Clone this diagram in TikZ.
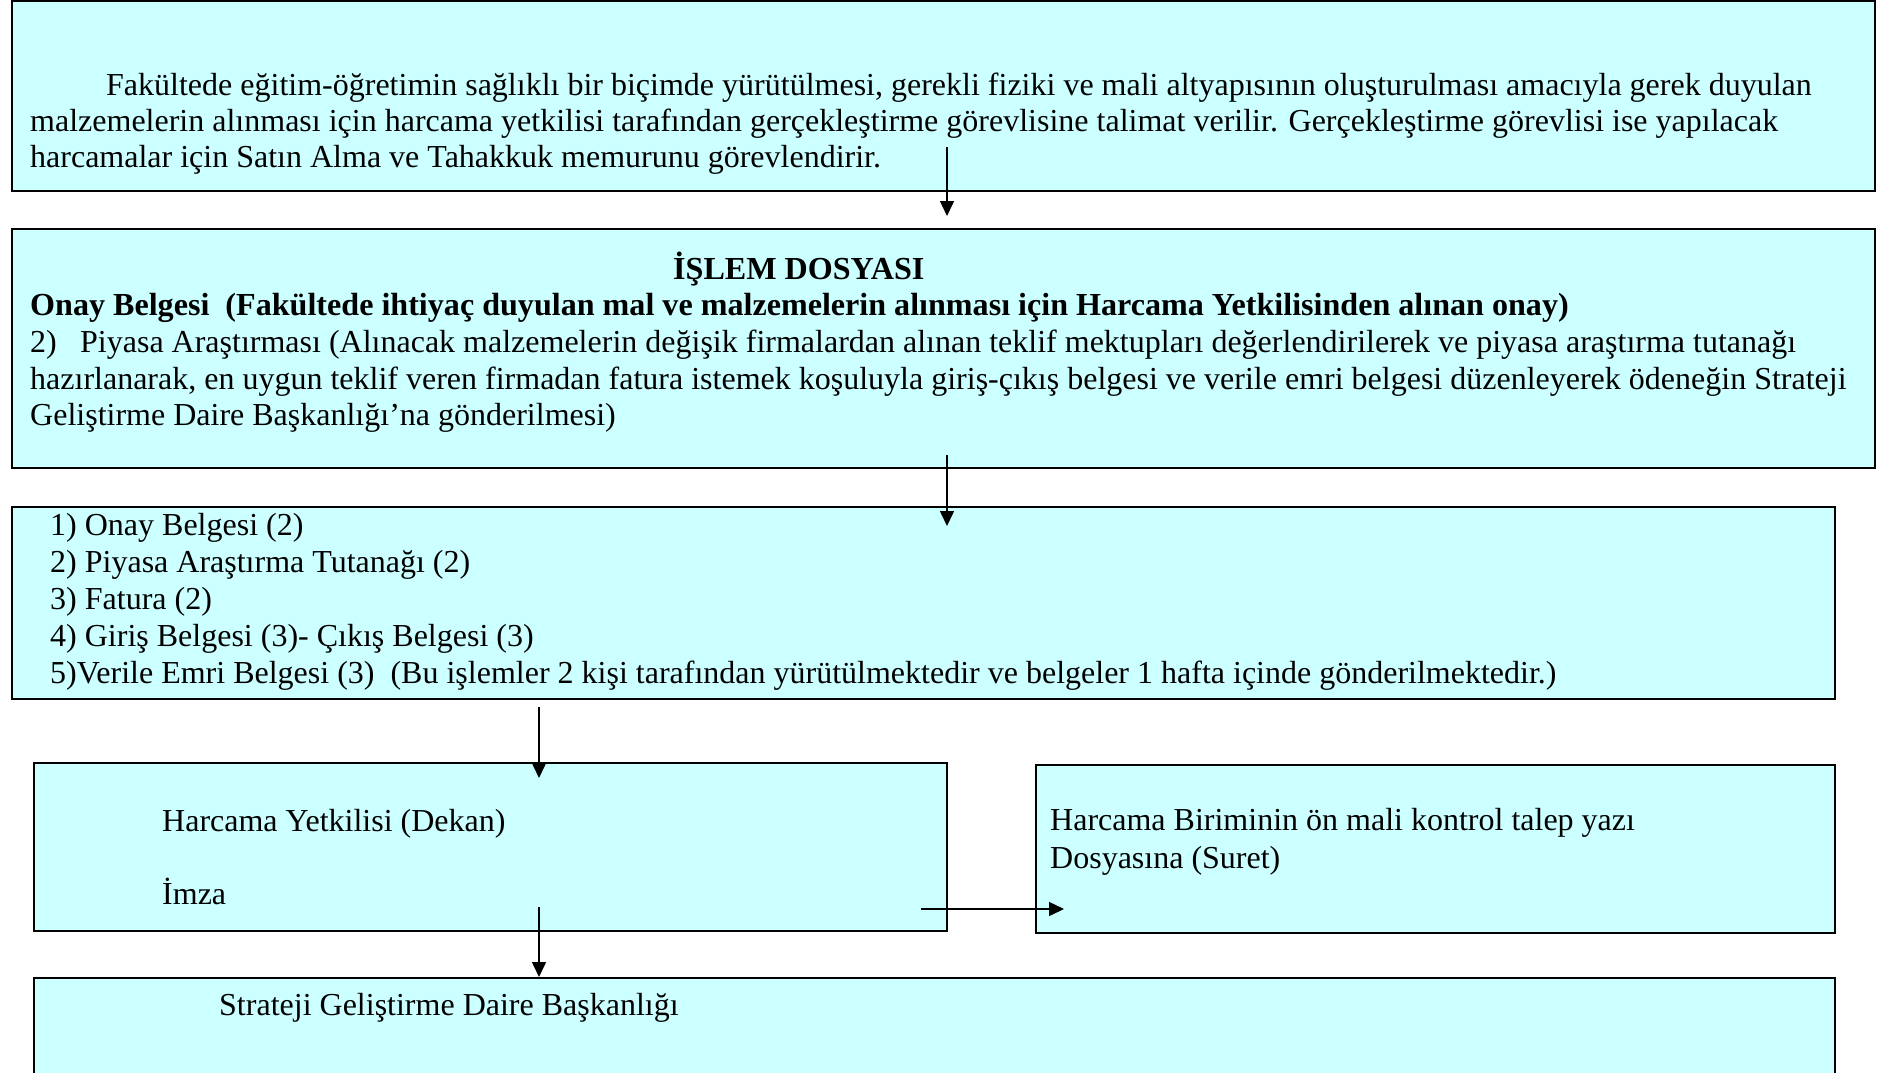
\documentclass[tikz,border=0pt]{standalone}
\usepackage{fontspec}
\setmainfont{Liberation Serif}
\usetikzlibrary{arrows.meta}
\definecolor{boxcyan}{HTML}{CCFFFF}
\begin{document}
\begin{tikzpicture}[x=1pt,y=-1pt,
  box/.style={draw=black, line width=1.6pt, fill=boxcyan, rectangle, inner sep=0pt, outer sep=0pt, anchor=north west},
  txt/.style={anchor=base west, inner sep=0pt, font=\fontsize{32}{36}\selectfont},
  btxt/.style={txt, font=\fontsize{32.1}{36}\selectfont\bfseries},
  arr/.style={line width=1.5pt, -{Triangle[length=15pt,width=14pt]}}]
\clip (0,0) rectangle (1883,1072);
\fill[white] (0,0) rectangle (1883,1072);
% boxes
\node[box, minimum width=1863pt, minimum height=190pt] (b1) at (12,1) {};
\node[box, minimum width=1863pt, minimum height=239pt] (b2) at (12,229) {};
\node[box, minimum width=1823pt, minimum height=192pt] (b3) at (12,507) {};
\node[box, minimum width=913pt, minimum height=168pt] (b4) at (34,763) {};
\node[box, minimum width=799pt, minimum height=168pt] (b5) at (1036,765) {};
\node[box, minimum width=1801pt, minimum height=120pt] (b6) at (34,978) {};
% box 1 text
\node[txt] (t1a) at (106,95) {Fakültede eğitim-öğretimin sağlıklı bir biçimde yürütülmesi, gerekli fiziki ve mali altyapısının oluşturulması amacıyla gerek duyulan};
\node[txt] (t1b) at (30,131) {malzemelerin alınması için harcama yetkilisi tarafından gerçekleştirme görevlisine talimat verilir. Gerçekleştirme görevlisi ise yapılacak};
\node[txt] (t1c) at (30,167) {harcamalar için Satın Alma ve Tahakkuk memurunu görevlendirir.};
% box 2 text
\node[btxt] (t2a) at (673,279) {İŞLEM DOSYASI};
\node[btxt] (t2b) at (30,315.5) {Onay Belgesi\ \ (Fakültede ihtiyaç duyulan mal ve malzemelerin alınması için Harcama Yetkilisinden alınan onay)};
\node[txt] (t2c) at (30,352.5) {\makebox[50pt][l]{2)}Piyasa Araştırması (Alınacak malzemelerin değişik firmalardan alınan teklif mektupları değerlendirilerek ve piyasa araştırma tutanağı};
\node[txt] (t2d) at (30,389) {hazırlanarak, en uygun teklif veren firmadan fatura istemek koşuluyla giriş-çıkış belgesi ve verile emri belgesi düzenleyerek ödeneğin Strateji};
\node[txt] (t2e) at (30,425.5) {Geliştirme Daire Başkanlığı’na gönderilmesi)};
% box 3 text
\node[txt] (t3a) at (50,535.5) {1) Onay Belgesi (2)};
\node[txt] (t3b) at (50,572.5) {2) Piyasa Araştırma Tutanağı (2)};
\node[txt] (t3c) at (50,609.5) {3) Fatura (2)};
\node[txt] (t3d) at (50,646.5) {4) Giriş Belgesi (3)- Çıkış Belgesi (3)};
\node[txt] (t3e) at (50,683.5) {5)Verile Emri Belgesi (3)\ \ (Bu işlemler 2 kişi tarafından yürütülmektedir ve belgeler 1 hafta içinde gönderilmektedir.)};
% box 4 text
\node[txt] (t4a) at (162,831) {Harcama Yetkilisi (Dekan)};
\node[txt] (t4b) at (162,904) {İmza};
% box 5 text
\node[txt] (t5a) at (1050,830) {Harcama Biriminin ön mali kontrol talep yazı};
\node[txt] (t5b) at (1050,868) {Dosyasına (Suret)};
% box 6 text
\node[txt] (t6a) at (219,1015) {Strateji Geliştirme Daire Başkanlığı};
% arrows
\coordinate (a1s) at (947,147); \coordinate (a1e) at (947,216);
\coordinate (a2s) at (947,455); \coordinate (a2e) at (947,526);
\coordinate (a3s) at (539,707); \coordinate (a3e) at (539,778);
\coordinate (a4s) at (921,909); \coordinate (a4e) at (1064,909);
\coordinate (a5s) at (539,907); \coordinate (a5e) at (539,977);
\draw[arr] (a1s) -- (a1e);
\draw[arr] (a2s) -- (a2e);
\draw[arr] (a3s) -- (a3e);
\draw[arr] (a4s) -- (a4e);
\draw[arr] (a5s) -- (a5e);
\end{tikzpicture}
\end{document}
